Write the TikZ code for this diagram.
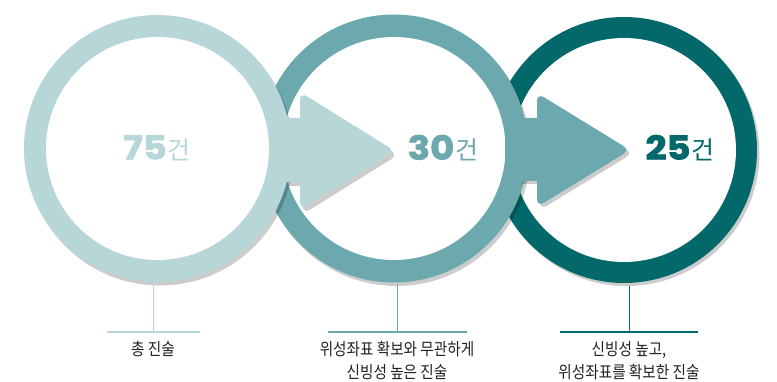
\documentclass[tikz,border=0pt]{standalone}
\usepackage{fontspec}
\newfontfamily\kr{Noto Sans CJK KR}
\newfontfamily\numf{Poppins}[BoldFeatures={FakeBold=2}]
\usetikzlibrary{calc}
\definecolor{cA}{HTML}{B7D6D8}
\definecolor{cB}{HTML}{6BA9AF}
\definecolor{cC}{HTML}{02686A}
\definecolor{txt}{HTML}{222222}
\newcommand{\bignumtext}[2]{\textcolor{#1}{\scalebox{1.12}[1]{\numf\bfseries\fontsize{33}{33}\selectfont #2}\kern1pt\kr\fontsize{25}{25}\selectfont 건}}
\newcommand{\lblline}[1]{\scalebox{0.86}[1]{#1}}
\begin{document}
\begin{tikzpicture}[x=1pt,y=-1pt,
  shad/.style={fill=black,opacity=0.2},
  bignum/.style={inner sep=0pt,anchor=center},
  lbl/.style={inner sep=0pt,align=center,text=txt,font=\kr\fontsize{17}{23}\selectfont},
  vline/.style={line width=1pt},
  hline/.style={line width=1.6pt}]
\useasboundingbox (0,0) rectangle (777,382);
\coordinate (o1) at (157.5,148.5);
\coordinate (o2) at (394,148.5);
\coordinate (o3) at (624,150);
% circle 3
\fill[shad] ($(o3)+(2.5,3)$) circle (133pt);
\fill[cC] (o3) circle (133pt);
\fill[white] (o3) circle (112pt);
% circle 2
\fill[shad] ($(o2)+(2.5,3.5)$) circle (134pt);
\fill[cB] (o2) circle (134pt);
\fill[white] (o2) circle (111.5pt);
% circle 1
\fill[shad] ($(o1)+(2.5,3.5)$) circle (133.5pt);
\fill[cA] (o1) circle (133.5pt);
\fill[white] (o1) circle (111.5pt);
% arrow 2
\fill[shad] [rounded corners=8pt] (540,97) -- (633,153) -- (540,210) -- cycle [sharp corners] (522,121) -- (548,121) -- (548,184) -- (522,184) -- cycle;
\fill[cB] [rounded corners=8pt] (537,93) -- (630,150) -- (537,207) -- cycle [sharp corners] (505,118) -- (545,118) -- (545,181) -- (505,181) -- cycle;
% arrow 1
\fill[shad] [rounded corners=8pt] (303,96) -- (398,155) -- (303,214) -- cycle [sharp corners] (288,122) -- (313,122) -- (313,186) -- (288,186) -- cycle;
\fill[cA] [rounded corners=8pt] (300,92) -- (395,151) -- (300,210) -- cycle [sharp corners] (270,118) -- (310,118) -- (310,182) -- (270,182) -- cycle;
% numbers
\node[bignum] (n1) at (157,148) {\bignumtext{cA}{75}};
\node[bignum] (n2) at (443,148) {\bignumtext{cB}{30}};
\node[bignum] (n3) at (680,148) {\bignumtext{cC}{25}};
% leader lines
\coordinate (b1) at (153,284);
\coordinate (b2) at (397,284);
\coordinate (b3) at (629,286);
\coordinate (h1) at (153,332);
\coordinate (h2) at (397,332);
\coordinate (h3) at (629,332);
\coordinate (h1l) at (107,332); \coordinate (h1r) at (200,332);
\coordinate (h2l) at (328,332); \coordinate (h2r) at (467,332);
\coordinate (h3l) at (560,332); \coordinate (h3r) at (698,332);
\draw[vline,cA] (b1) -- (h1);
\draw[vline,cB] (b2) -- (h2);
\draw[vline,cC] (b3) -- (h3);
\draw[hline,cA] (h1l) -- (h1r);
\draw[hline,cB] (h2l) -- (h2r);
\draw[hline,cC] (h3l) -- (h3r);
% labels
\node[lbl] (l1) at (153,349) {\lblline{총 진술}};
\node[lbl] (l2) at (397,360.5) {\lblline{위성좌표 확보와 무관하게}\\\lblline{신빙성 높은 진술}};
\node[lbl] (l3) at (629,360.5) {\lblline{신빙성 높고,}\\\lblline{위성좌표를 확보한 진술}};
\end{tikzpicture}
\end{document}
